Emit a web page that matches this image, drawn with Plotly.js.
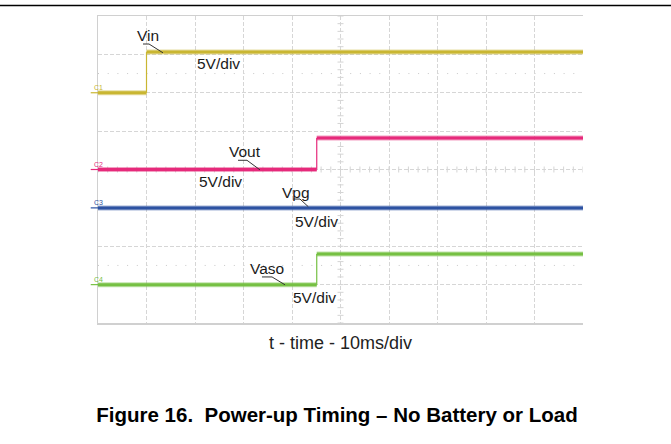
<!DOCTYPE html>
<html>
<head>
<meta charset="utf-8">
<script src="https://cdn.plot.ly/plotly-3.0.1.min.js"></script>
<style>html,body{margin:0;padding:0;background:#fff;}#chart{width:671px;height:444px;}</style>
</head>
<body>
<div id="chart"></div>
<script>
// ---- data (time in ms, levels in volts) ----
const channelNames  = ['Vin', 'Vout', 'Vpg', 'Vaso'];
const channelTags   = ['C1', 'C2', 'C3', 'C4'];
const scaleLabels   = ['5V/div', '5V/div', '5V/div', '5V/div'];
const vinTime   = [0, 10.0, 10.0, 100];
const vinVolts  = [0, 0, 5.3, 5.3];
const voutTime  = [0, 45.1, 45.1, 100];
const voutVolts = [0, 0, 4.1, 4.1];
const vpgTime   = [0, 100];
const vpgVolts  = [0, 0];
const vasoTime  = [0, 45.1, 45.1, 100];
const vasoVolts = [0, 0, 4.0, 4.0];
const xAxisLabel = 't - time - 10ms/div';
const figureTitle = 'Figure 16.\u00a0 Power-up Timing \u2013 No Battery or Load';

// ---- presentation ----
const W = 671, H = 444, L = 98, R = 583, T = 16, B = 323;
const colors = ['#c9b632', '#e62a7b', '#2d52a2', '#76c043'];
const zeroDiv = [6, 4, 3, 1];          // channel ground position in divisions
const voltsPerDiv = 5;
const series = [[vinTime, vinVolts], [voutTime, voutVolts], [vpgTime, vpgVolts], [vasoTime, vasoVolts]];
const nameXY  = [[10.41, 7.49], [30.41, 4.48], [40.82, 3.40], [34.85, 1.42]];
const scaleXY = [[24.85, 6.75], [25.26, 3.69], [45.05, 2.65], [44.74, 0.67]];
const leaders = [
  [[9.28, 7.27], [10.52, 7.27], [13.40, 7.04]],
  [[28.87, 4.24], [30.72, 4.24], [33.40, 3.99]],
  [[40.27, 3.23], [41.65, 3.23], [43.36, 3.03]],
  [[33.81, 1.20], [35.88, 1.20], [38.56, 0.995]]
];
const font = 'Liberation Sans, Arial, Helvetica, sans-serif';

const traces = [];
series.forEach((s, i) => {
  const t = s[0], v = s[1];
  const fx = [], fy = [], rx = [], ry = [];
  for (let k = 0; k < t.length; k++) {
    if (k > 0 && t[k] === t[k - 1]) {
      rx.push(t[k - 1], t[k], null); ry.push(v[k - 1], v[k], null);
      fx.push(null); fy.push(null);
    }
    fx.push(t[k]); fy.push(v[k]);
  }
  const ya = 'y' + (i + 2);
  traces.push({x: fx, y: fy, yaxis: ya, mode: 'lines', line: {color: colors[i], width: 5}, opacity: 0.45, hoverinfo: 'skip', showlegend: false, connectgaps: false});
  traces.push({x: fx, y: fy, yaxis: ya, mode: 'lines', line: {color: colors[i], width: 3}, name: channelNames[i], showlegend: false, connectgaps: false});
  if (rx.length) traces.push({x: rx, y: ry, yaxis: ya, mode: 'lines', line: {color: colors[i], width: 1.2}, hoverinfo: 'skip', showlegend: false, connectgaps: false});
});

const shapes = [];
// page rule
shapes.push({type: 'line', xref: 'paper', yref: 'paper', x0: -L / (R - L), x1: (W - L) / (R - L), y0: (B - 5.5) / (B - T), y1: (B - 5.5) / (B - T), line: {color: '#000', width: 1.6}});
// center axis tick marks
for (let k = 0; k <= 40; k++) {
  shapes.push({type: 'line', xref: 'x', yref: 'y', xsizemode: 'pixel', xanchor: 50, x0: -3, x1: 3, y0: k * 0.2, y1: k * 0.2, line: {color: '#d4d4d4', width: 1}, layer: 'below'});
}
for (let k = 0; k <= 50; k++) {
  shapes.push({type: 'line', xref: 'x', yref: 'y', ysizemode: 'pixel', yanchor: 4, y0: -3, y1: 3, x0: k * 2, x1: k * 2, line: {color: '#d4d4d4', width: 1}, layer: 'below'});
}
// dotted reference lines
[6.5, 1.5].forEach(d => shapes.push({type: 'line', xref: 'paper', yref: 'y', x0: 0, x1: 1, y0: d, y1: d, line: {color: '#c8c8c8', width: 1, dash: '1px,8.7px'}, layer: 'below'}));
// channel ground markers
colors.forEach((c, i) => shapes.push({type: 'line', xref: 'paper', yref: 'y' + (i + 2), x0: -0.015, x1: 0, y0: 0, y1: 0, line: {color: c, width: 1.2}}));
// leader lines
leaders.forEach(p => shapes.push({type: 'path', xref: 'x', yref: 'y', path: 'M' + p.map(q => q[0] + ',' + q[1]).join(' L'), line: {color: '#333', width: 1}}));

const annotations = [];
channelNames.forEach((n, i) => {
  annotations.push({text: n, x: nameXY[i][0], y: nameXY[i][1], xref: 'x', yref: 'y', showarrow: false, font: {family: font, size: 15.5, color: '#1a1a1a'}});
  annotations.push({text: scaleLabels[i], x: scaleXY[i][0], y: scaleXY[i][1], xref: 'x', yref: 'y', showarrow: false, font: {family: font, size: 15.5, color: '#1a1a1a'}});
  annotations.push({text: channelTags[i], x: -0.012, y: 0, xref: 'paper', yref: 'y' + (i + 2), yanchor: 'bottom', yshift: 0, showarrow: false, font: {family: font, size: 7, color: colors[i]}});
});

const layout = {
  width: W, height: H,
  margin: {l: L, r: W - R, t: T, b: H - B, pad: 0},
  paper_bgcolor: '#fff', plot_bgcolor: '#fff',
  title: {text: '<b>' + figureTitle + '</b>', x: 337 / W, xanchor: 'center', y: 1 - 415 / H, yanchor: 'middle', yref: 'container', font: {family: font, size: 20.5, color: '#000'}},
  xaxis: {range: [0, 100], dtick: 10, tick0: 0, showgrid: true, gridcolor: '#d6d6d6', griddash: '4px,2px', gridwidth: 1,
          showticklabels: false, ticks: '', zeroline: false, showline: true, linecolor: '#d0d0d0', linewidth: 1.5, mirror: true, fixedrange: true,
          title: {text: xAxisLabel, standoff: 13, font: {family: font, size: 18, color: '#222'}}},
  yaxis: {range: [0, 8], dtick: 1, tick0: 0, showgrid: true, gridcolor: '#d6d6d6', griddash: '4px,2px', gridwidth: 1,
          showticklabels: false, ticks: '', zeroline: false, showline: true, linecolor: '#d0d0d0', linewidth: 1.5, fixedrange: true},
  shapes: shapes,
  annotations: annotations,
  showlegend: false
};
zeroDiv.forEach((z, i) => {
  layout['yaxis' + (i + 2)] = {overlaying: 'y', range: [-z * voltsPerDiv, (8 - z) * voltsPerDiv], visible: false, fixedrange: true};
});

Plotly.newPlot('chart', traces, layout, {staticPlot: true, displayModeBar: false});
</script>
</body>
</html>
